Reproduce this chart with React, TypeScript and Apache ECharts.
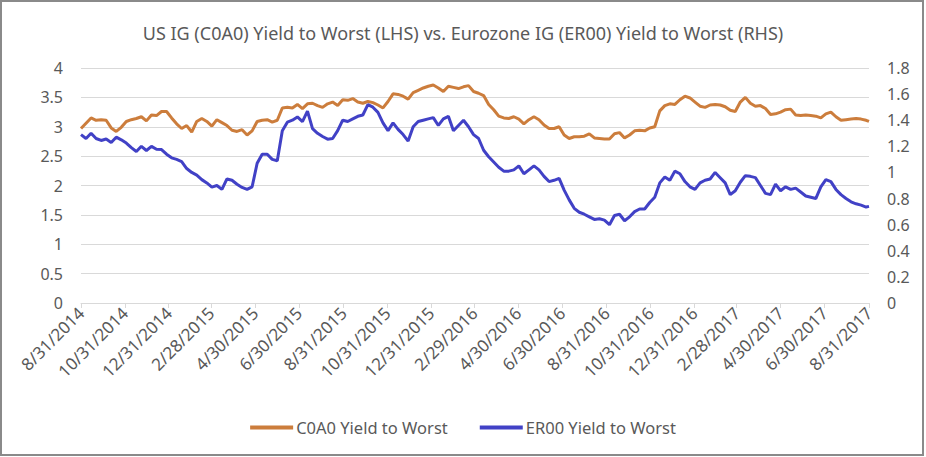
import React, { useEffect, useRef } from "react";
import * as echarts from "echarts";

const TITLE = "US IG (C0A0) Yield to Worst (LHS) vs. Eurozone IG (ER00) Yield to Worst (RHS)";
const SERIES_NAMES = ["C0A0 Yield to Worst", "ER00 Yield to Worst"];

// first and last calendar day of the x axis
const START = { y: 2014, m: 8, d: 31 };
const DAY_COUNT = 1097; // 8/31/2014 .. 8/31/2017
const STEP_DAYS = 7; // values below are weekly readings

const TICK_LABELS = [
  "8/31/2014", "10/31/2014", "12/31/2014", "2/28/2015", "4/30/2015", "6/30/2015",
  "8/31/2015", "10/31/2015", "12/31/2015", "2/29/2016", "4/30/2016", "6/30/2016",
  "8/31/2016", "10/31/2016", "12/31/2016", "2/28/2017", "4/30/2017", "6/30/2017",
  "8/31/2017",
];

const LEFT_TICKS = { min: 0, max: 4, interval: 0.5 };
const RIGHT_TICKS = { min: 0, max: 1.8, interval: 0.2 };

// US IG C0A0 yield to worst (LHS), weekly
const C0A0 = [
  2.97, 3.06, 3.15, 3.11, 3.12, 3.11, 2.98, 2.92, 2.99, 3.09,
  3.12, 3.14, 3.17, 3.10, 3.20, 3.19, 3.26, 3.26, 3.15, 3.05,
  2.97, 3.02, 2.91, 3.09, 3.14, 3.09, 3.01, 3.12, 3.07, 3.02,
  2.94, 2.92, 2.95, 2.86, 2.93, 3.09, 3.11, 3.12, 3.08, 3.11,
  3.32, 3.33, 3.32, 3.38, 3.31, 3.39, 3.40, 3.36, 3.33, 3.39,
  3.42, 3.36, 3.46, 3.45, 3.48, 3.42, 3.40, 3.43, 3.41, 3.37,
  3.32, 3.43, 3.56, 3.55, 3.52, 3.47, 3.58, 3.62, 3.66, 3.69,
  3.71, 3.66, 3.60, 3.69, 3.67, 3.65, 3.68, 3.70, 3.60, 3.57,
  3.53, 3.38, 3.29, 3.18, 3.15, 3.14, 3.17, 3.13, 3.05, 3.12,
  3.17, 3.12, 3.03, 2.97, 2.97, 3.00, 2.86, 2.80, 2.83, 2.83,
  2.84, 2.88, 2.81, 2.80, 2.79, 2.79, 2.88, 2.90, 2.81, 2.86,
  2.93, 2.94, 2.93, 2.98, 3.00, 3.27, 3.36, 3.39, 3.38, 3.46,
  3.52, 3.49, 3.42, 3.35, 3.33, 3.37, 3.38, 3.37, 3.34, 3.28,
  3.26, 3.42, 3.50, 3.40, 3.35, 3.36, 3.31, 3.21, 3.22, 3.25,
  3.29, 3.30, 3.20, 3.19, 3.20, 3.19, 3.18, 3.15, 3.22, 3.25,
  3.17, 3.11, 3.12, 3.13, 3.14, 3.13, 3.11, 3.09,
];

// Eurozone IG ER00 yield to worst (RHS), weekly
const ER00 = [
  1.29, 1.26, 1.30, 1.26, 1.245, 1.256, 1.23, 1.27, 1.25, 1.225,
  1.19, 1.16, 1.20, 1.168, 1.20, 1.178, 1.175, 1.14, 1.112, 1.10,
  1.083, 1.03, 1.00, 0.98, 0.945, 0.92, 0.888, 0.90, 0.87, 0.95,
  0.94, 0.91, 0.885, 0.87, 0.89, 1.07, 1.14, 1.14, 1.10, 1.09,
  1.32, 1.385, 1.40, 1.425, 1.39, 1.47, 1.335, 1.30, 1.275, 1.255,
  1.26, 1.32, 1.40, 1.39, 1.41, 1.43, 1.44, 1.52, 1.50, 1.46,
  1.38, 1.32, 1.38, 1.33, 1.29, 1.24, 1.35, 1.39, 1.40, 1.41,
  1.42, 1.36, 1.41, 1.43, 1.32, 1.36, 1.40, 1.35, 1.29, 1.26,
  1.17, 1.12, 1.08, 1.04, 1.01, 1.01, 1.02, 1.05, 0.99, 1.02,
  1.05, 1.02, 0.97, 0.93, 0.94, 0.955, 0.865, 0.79, 0.725, 0.695,
  0.68, 0.66, 0.64, 0.645, 0.635, 0.60, 0.67, 0.68, 0.63, 0.66,
  0.70, 0.72, 0.72, 0.77, 0.81, 0.92, 0.965, 0.94, 1.01, 0.99,
  0.93, 0.89, 0.87, 0.92, 0.94, 0.95, 1.00, 0.96, 0.92, 0.83,
  0.86, 0.925, 0.975, 0.97, 0.96, 0.90, 0.84, 0.83, 0.91, 0.86,
  0.89, 0.87, 0.88, 0.85, 0.82, 0.81, 0.80, 0.89, 0.945, 0.93,
  0.87, 0.83, 0.80, 0.775, 0.76, 0.75, 0.735, 0.74,
];

const COLORS = ["#CC7D3C", "#4141C6"];
const TEXT_COLOR = "#595959";
const GRID_COLOR = "#D9D9D9";
const FONT = "'Noto Sans', 'Open Sans', sans-serif";

function buildDays(): string[] {
  const out: string[] = [];
  const t0 = Date.UTC(START.y, START.m - 1, START.d);
  for (let i = 0; i < DAY_COUNT; i++) {
    const dt = new Date(t0 + i * 86400000);
    out.push(`${dt.getUTCMonth() + 1}/${dt.getUTCDate()}/${dt.getUTCFullYear()}`);
  }
  return out;
}

function toPairs(values: number[]): [number, number][] {
  return values.map((v, i) => [Math.min(i * STEP_DAYS, DAY_COUNT - 1), v]);
}

export default function App() {
  const ref = useRef<HTMLDivElement>(null);

  useEffect(() => {
    document.body.style.margin = "0";
    if (!ref.current) return;
    const chart = echarts.init(ref.current, null, { renderer: "svg" });
    const days = buildDays();
    const tickSet = new Set(TICK_LABELS);
    const isTick = (_i: number, v: string) => tickSet.has(v);

    chart.setOption({
      animation: false,
      backgroundColor: "#FFFFFF",
      textStyle: { fontFamily: FONT },
      title: {
        text: TITLE,
        left: "center",
        top: 19,
        textStyle: { color: TEXT_COLOR, fontSize: 18, fontWeight: "normal", fontFamily: FONT },
      },
      graphic: [
        {
          type: "rect",
          shape: { x: 1, y: 1, width: 922, height: 454 },
          style: { fill: "none", stroke: "#8A8A8A", lineWidth: 2 },
          silent: true,
        },
      ],
      legend: {
        data: SERIES_NAMES,
        left: "center",
        top: 414,
        icon: "rect",
        itemWidth: 43,
        itemHeight: 4,
        itemGap: 32,
        textStyle: { color: TEXT_COLOR, fontSize: 16.5, fontFamily: FONT, padding: [0, 0, 0, -2] },
      },
      grid: { left: 81, right: 57, top: 68, bottom: 154, containLabel: false },
      xAxis: {
        type: "category",
        data: days,
        boundaryGap: false,
        axisLine: { show: true, lineStyle: { color: GRID_COLOR, width: 1 } },
        axisTick: { show: true, interval: isTick, length: 5, lineStyle: { color: GRID_COLOR } },
        axisLabel: {
          interval: isTick,
          rotate: 45,
          color: TEXT_COLOR,
          fontSize: 17,
          fontFamily: FONT,
          margin: 7,
        },
        splitLine: { show: false },
      },
      yAxis: [
        {
          type: "value",
          ...LEFT_TICKS,
          axisLine: { show: false },
          axisTick: { show: false },
          axisLabel: { color: TEXT_COLOR, fontSize: 16, fontFamily: FONT, margin: 18 },
          splitLine: { show: true, lineStyle: { color: GRID_COLOR, width: 1 } },
        },
        {
          type: "value",
          ...RIGHT_TICKS,
          position: "right",
          axisLine: { show: false },
          axisTick: { show: false },
          axisLabel: { color: TEXT_COLOR, fontSize: 16, fontFamily: FONT, margin: 18 },
          splitLine: { show: false },
        },
      ],
      series: [
        {
          name: SERIES_NAMES[0],
          type: "line",
          yAxisIndex: 0,
          data: toPairs(C0A0),
          showSymbol: false,
          symbol: "none",
          lineStyle: { color: COLORS[0], width: 3 },
          itemStyle: { color: COLORS[0] },
        },
        {
          name: SERIES_NAMES[1],
          type: "line",
          yAxisIndex: 1,
          data: toPairs(ER00),
          showSymbol: false,
          symbol: "none",
          lineStyle: { color: COLORS[1], width: 3 },
          itemStyle: { color: COLORS[1] },
        },
      ],
    });

    return () => chart.dispose();
  }, []);

  return <div ref={ref} style={{ width: 926, height: 457 }} />;
}
